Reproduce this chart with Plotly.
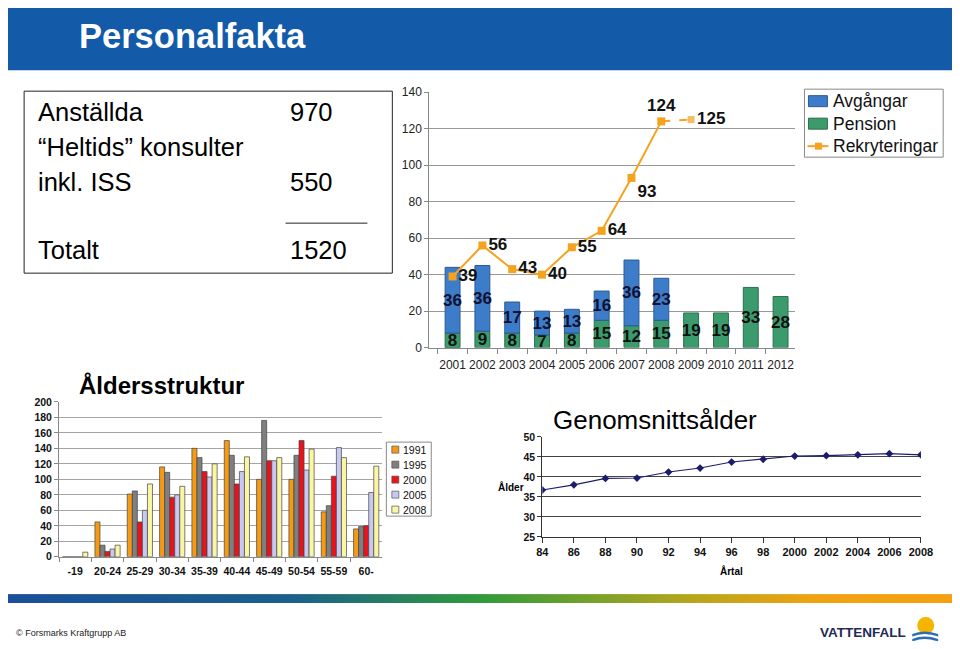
import base64
import plotly.graph_objects as go

# Figure sized to the window minus the page's 8px body margin; positions are given in
# window pixels (X, Y) of the target picture and mapped to paper fractions by px()/py(),
# including a small empirical correction for how the page is photographed.
OFF = 8
W, H = 960 - 2 * OFF, 649 - 2 * OFF
SX, AX = 0.983, 6.0
SY, AY = 0.978, 7.0
def px(X): return ((X - AX) / SX - OFF) / W
def py(Y): return 1 - ((Y - AY) / SY - OFF) / H

FONT = "Liberation Sans"

# ---------------- data ----------------
years = ["2001", "2002", "2003", "2004", "2005", "2006", "2007", "2008", "2009", "2010", "2011", "2012"]
pension = [8, 9, 8, 7, 8, 15, 12, 15, 19, 19, 33, 28]
avgangar = [36, 36, 17, 13, 13, 16, 36, 23]
rekryteringar = [39, 56, 43, 40, 55, 64, 93, 124, 125]
rek_labelpos = ["middle right", "middle right", "middle right", "middle right", "middle right",
                "middle right", "bottom right", "top center", "middle right"]

age_groups = ["-19", "20-24", "25-29", "30-34", "35-39", "40-44", "45-49", "50-54", "55-59", "60-"]
age_series = ["1991", "1995", "2000", "2005", "2008"]
age_1991 = [0, 45, 81, 116, 140, 150, 100, 100, 58, 36]
age_1995 = [0, 15, 85, 109, 128, 131, 176, 131, 66, 39]
age_2000 = [0, 7, 45, 77, 110, 94, 124, 150, 104, 40]
age_2005 = [0, 10, 60, 80, 103, 110, 124, 112, 141, 83]
age_2008 = [6, 15, 94, 91, 120, 129, 128, 139, 128, 117]
age_colors = ["#f59a12", "#7f7f7f", "#e8131b", "#c7c9f2", "#fbf6a3"]

snitt_years = [1984, 1986, 1988, 1990, 1992, 1994, 1996, 1998, 2000, 2002, 2004, 2006, 2008]
snitt_ticktext = ["84", "86", "88", "90", "92", "94", "96", "98", "2000", "2002", "2004", "2006", "2008"]
snitt_age = [36.7, 38.0, 39.6, 39.7, 41.2, 42.2, 43.7, 44.4, 45.2, 45.3, 45.5, 45.8, 45.5]

summary_labels = ["Anställda", "\u201cHeltids\u201d konsulter", "inkl. ISS", "Totalt"]
summary_values = ["970", "", "550", "1520"]

BLUE, BLUE_EDGE = "#3d7cc9", "#2b5a96"
GREEN, GREEN_EDGE = "#3c9b6c", "#2a6e4c"
ORANGE = "#f5a21f"

fig = go.Figure()
bar_text_font = dict(family=FONT, size=17, color="#111111", weight="bold")

# ---------------- top chart ----------------
fig.add_trace(go.Bar(
    x=years, y=pension, name="Pension", showlegend=False,
    marker=dict(color=GREEN, line=dict(color=GREEN_EDGE, width=1)),
    width=0.5, offset=-0.25, offsetgroup="top",
    text=[str(v) for v in pension], textposition="inside", insidetextanchor="middle",
    textangle=0, constraintext="none", textfont=bar_text_font, xaxis="x", yaxis="y"))
fig.add_trace(go.Bar(
    x=years[:len(avgangar)], y=avgangar, base=pension[:len(avgangar)], name="Avgångar", showlegend=False,
    marker=dict(color=BLUE, line=dict(color=BLUE_EDGE, width=1)),
    width=0.5, offset=-0.25, offsetgroup="top",
    text=[str(v) for v in avgangar], textposition="inside", insidetextanchor="middle",
    textangle=0, constraintext="none", textfont=dict(bar_text_font, color="#111133"), xaxis="x", yaxis="y"))
n_solid = 8
fig.add_trace(go.Scatter(
    x=years[:n_solid], y=rekryteringar[:n_solid], name="Rekryteringar", showlegend=False,
    mode="lines+markers+text", line=dict(color=ORANGE, width=2),
    marker=dict(symbol="square", size=8, color=ORANGE),
    text=[str(v) for v in rekryteringar[:n_solid]], textposition=rek_labelpos[:n_solid],
    textfont=bar_text_font, cliponaxis=False, xaxis="x", yaxis="y"))
fig.add_trace(go.Scatter(
    x=years[n_solid - 1:len(rekryteringar)], y=rekryteringar[n_solid - 1:], name="Rekryteringar",
    showlegend=False, mode="lines+markers+text",
    line=dict(color=ORANGE, width=2, dash="dash"),
    marker=dict(symbol="square", size=[0, 8], color=ORANGE),
    text=[""] + [str(v) for v in rekryteringar[n_solid:]], textposition=rek_labelpos[n_solid - 1:],
    textfont=bar_text_font, cliponaxis=False, xaxis="x", yaxis="y"))

# ---------------- age structure ----------------
for name, vals, col in zip(age_series, [age_1991, age_1995, age_2000, age_2005, age_2008], age_colors):
    fig.add_trace(go.Bar(
        x=age_groups, y=vals, name=name, showlegend=False,
        marker=dict(color=col, line=dict(color="#444444", width=0.7)),
        xaxis="x2", yaxis="y2"))

# ---------------- average age ----------------
fig.add_trace(go.Scatter(
    x=snitt_years, y=snitt_age, mode="lines+markers", showlegend=False,
    line=dict(color="#1c1c6e", width=1.2),
    marker=dict(symbol="diamond", size=6, color="#1c1c6e"),
    xaxis="x3", yaxis="y3"))

# ---------------- decorations ----------------
annotations = []
shapes = []

def text(t, X, Y, size, anchor="left", color="black", bold=False):
    annotations.append(dict(text=t, x=px(X), y=py(Y), xref="paper", yref="paper", xanchor=anchor,
                            yanchor="middle", showarrow=False,
                            font=dict(family=FONT, size=size, color=color,
                                      weight="bold" if bold else "normal")))

def rect(X0, Y0, X1, Y1, fill=None, line="#222222", lw=1, layer="above"):
    shapes.append(dict(type="rect", xref="paper", yref="paper", x0=px(X0), x1=px(X1), y0=py(Y1), y1=py(Y0),
                       fillcolor=fill if fill else "rgba(0,0,0,0)",
                       line=dict(color=line, width=lw), layer=layer))

# title bar
rect(0, 3, 960, 70, fill="#135aa8", line="#135aa8", lw=0, layer="below")
text("Personalfakta", 77, 36, 34.5, color="white", bold=True)

# summary box
rect(24, 91, 393, 273)
shapes.append(dict(type="line", xref="paper", yref="paper", x0=px(286), x1=px(368), y0=py(223), y1=py(223),
                   line=dict(color="#222222", width=1)))
for lab, val, yy in zip(summary_labels, summary_values, [112, 147, 182, 250]):
    text(lab, 36, yy, 25.5)
    if val:
        text(val, 288, yy, 25.5)

# chart titles / axis titles
text("Åldersstruktur", 77, 385, 24, bold=True)
text("Genomsnittsålder", 552, 420, 26)
text("Ålder", 497, 487, 10, bold=True)
text("Årtal", 733, 571, 10, anchor="center", bold=True)

# legend of the top chart
rect(806, 89, 945, 157, fill="white", line="#888888")
leg_top = [(fig.data[1].name, "bar", BLUE, BLUE_EDGE),
           (fig.data[0].name, "bar", GREEN, GREEN_EDGE),
           (fig.data[2].name, "line", ORANGE, ORANGE)]
for i, (nm, kind, col, edge) in enumerate(leg_top):
    yc = 101 + 22.5 * i
    if kind == "bar":
        rect(810, yc - 5.5, 829, yc + 5.5, fill=col, line=edge)
    else:
        shapes.append(dict(type="line", xref="paper", yref="paper", x0=px(809), x1=px(830), y0=py(yc), y1=py(yc),
                           line=dict(color=col, width=2)))
        rect(816.5, yc - 3.5, 823.5, yc + 3.5, fill=col, line=col, lw=0)
    text(nm, 833, yc, 17.5, color="#111111")

# legend of the age chart
rect(387, 442, 432, 516, fill="white", line="#888888")
for i, (nm, col) in enumerate(zip(age_series, age_colors)):
    yc = 449.5 + 15 * i
    rect(392.5, yc - 3.5, 399.5, yc + 3.5, fill=col, line="#555555", lw=0.7)
    text(nm, 401.5, yc, 10.5, color="#111111")

# footer
grad_svg = ('<svg xmlns="http://www.w3.org/2000/svg" width="956" height="10" preserveAspectRatio="none">'
            '<defs><linearGradient id="g" x1="0" x2="1" y1="0" y2="0">'
            '<stop offset="0" stop-color="#1b4f9b"/><stop offset="0.3" stop-color="#1b5f8c"/>'
            '<stop offset="0.5" stop-color="#2f9a3c"/><stop offset="0.72" stop-color="#b5a61c"/>'
            '<stop offset="0.85" stop-color="#f0a212"/><stop offset="1" stop-color="#f5a010"/>'
            '</linearGradient></defs><rect width="956" height="10" fill="url(#g)"/></svg>')
grad_src = "data:image/svg+xml;base64," + base64.b64encode(grad_svg.encode()).decode()
images = [dict(source=grad_src, xref="paper", yref="paper", x=px(2), y=py(594),
               sizex=px(958) - px(2), sizey=py(594) - py(603),
               xanchor="left", yanchor="top", sizing="stretch", layer="below")]
text("© Forsmarks Kraftgrupp AB", 14, 633, 9, color="#222222")
text("VATTENFALL", 910, 632, 13.5, anchor="right", color="#1c2a55", bold=True)
shapes.append(dict(type="circle", xref="paper", yref="paper", x0=px(919), x1=px(936), y0=py(634), y1=py(617),
                   fillcolor="#f5b400", line=dict(width=0)))
for yw in (634, 639):
    shapes.append(dict(type="path", xref="paper", yref="paper",
                       path=(f"M {px(914)},{py(yw)} Q {px(926)},{py(yw - 5)} {px(940)},{py(yw)} "
                             f"L {px(940)},{py(yw + 2.5)} Q {px(926)},{py(yw - 2.5)} {px(914)},{py(yw + 2.5)} Z"),
                       fillcolor="#2b6cb5", line=dict(width=0)))

tick_small = dict(family=FONT, size=12, color="#222222")
bold_small = dict(family=FONT, size=10.5, color="#111111", weight="bold")

fig.update_layout(
    width=W, height=H, autosize=False, margin=dict(l=0, r=0, t=0, b=0),
    paper_bgcolor="white", plot_bgcolor="white", showlegend=False,
    barmode="group", bargap=0.22, bargroupgap=0,
    font=dict(family=FONT),
    annotations=annotations, shapes=shapes, images=images,
    xaxis=dict(domain=[px(430), px(797)], type="category", tickson="boundaries", ticks="outside", ticklen=5,
               tickcolor="#888888", showline=True, linecolor="#888888", showgrid=False, tickfont=tick_small,
               tickangle=0, ticklabelstandoff=6, anchor="y"),
    yaxis=dict(domain=[py(347.5), py(92)], range=[0, 140], dtick=20, showgrid=True, gridcolor="#999999",
               showline=True, linecolor="#888888", ticks="outside", ticklen=4, tickcolor="#888888",
               tickfont=tick_small, anchor="x", zeroline=False),
    xaxis2=dict(domain=[px(59), px(383)], type="category", tickson="boundaries", ticks="outside", ticklen=4,
                tickcolor="#888888", showline=True, linecolor="#888888", showgrid=False, tickfont=bold_small,
                tickangle=0, ticklabelstandoff=5, anchor="y2"),
    yaxis2=dict(domain=[py(556.7), py(401.7)], range=[0, 200], dtick=20, showgrid=True, gridcolor="#a5a5a5",
                showline=True, linecolor="#888888", ticks="outside", ticklen=4, tickcolor="#888888",
                tickfont=bold_small, anchor="x2", zeroline=False),
    xaxis3=dict(domain=[px(543.3), px(922.7)], range=[1984, 2008], tickvals=snitt_years, ticktext=snitt_ticktext,
                ticks="outside", ticklen=5, tickcolor="#333333", showline=True, linecolor="#333333",
                showgrid=False, tickfont=dict(family=FONT, size=11, color="#111111", weight="bold"),
                tickangle=0, anchor="y3", zeroline=False),
    yaxis3=dict(domain=[py(536.7), py(436.7)], range=[25, 50], dtick=5, showgrid=True, gridcolor="#444444",
                gridwidth=1, showline=True, linecolor="#333333", ticks="outside", ticklen=4, tickcolor="#333333",
                tickfont=dict(family=FONT, size=10.5, color="#111111", weight="bold"), anchor="x3",
                zeroline=False),
)

fig.write_html("out.html", config={"displayModeBar": False})
